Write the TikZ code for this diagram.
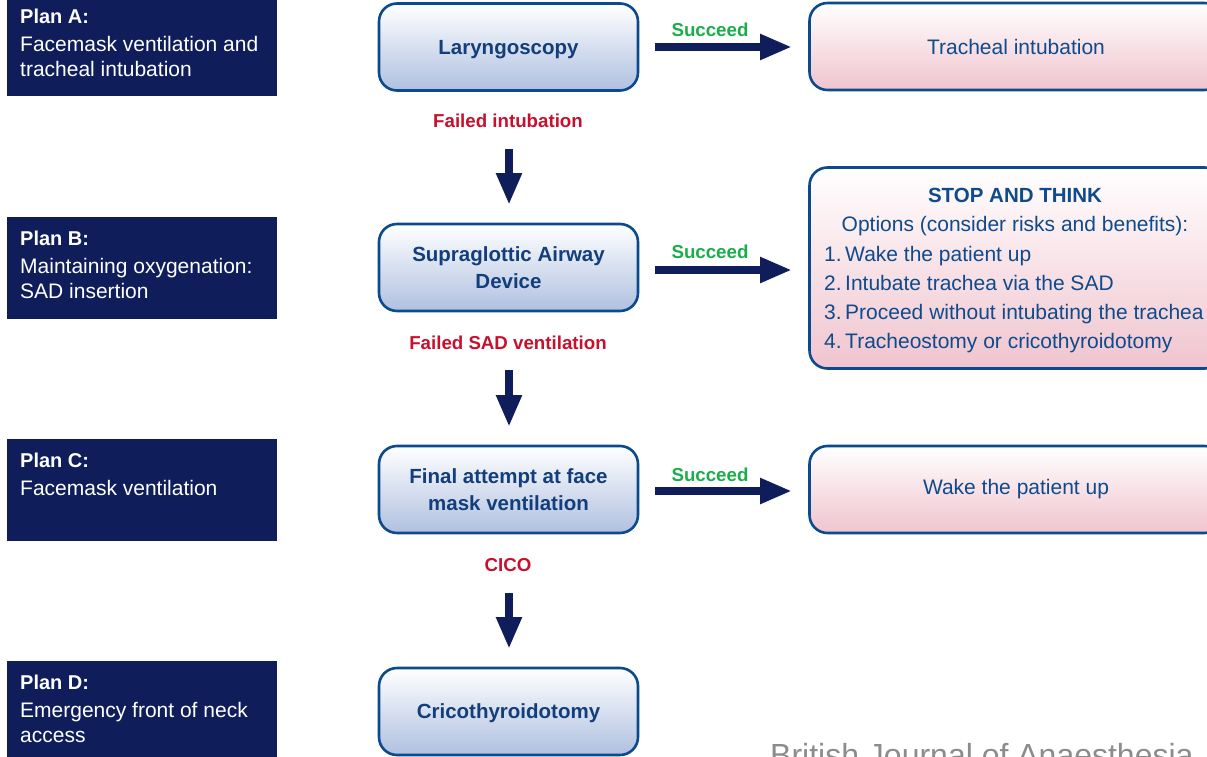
\documentclass[tikz,border=0pt]{standalone}
\usepackage{fontspec}
\setmainfont{Liberation Sans}
\usetikzlibrary{arrows.meta}
\definecolor{navy}{HTML}{0F1E5A}
\definecolor{boxline}{HTML}{0B4A8C}
\definecolor{ctext}{HTML}{123E7C}
\definecolor{rtext}{HTML}{0E4A8C}
\definecolor{sgreen}{HTML}{1AAE4A}
\definecolor{fred}{HTML}{C8102E}
\definecolor{blueb}{HTML}{AFC0E0}
\definecolor{pinkb}{HTML}{F0C4CE}
\definecolor{jgray}{HTML}{8C8C8C}
\begin{document}
\begin{tikzpicture}[x=1pt,y=-1pt,
  planbox/.style={fill=navy, draw=none, minimum width=270pt, minimum height=102pt, anchor=north west, inner sep=0pt},
  plantitle/.style={anchor=base west, inner sep=0pt, text=white, font=\fontsize{20}{24}\selectfont\bfseries},
  plantext/.style={anchor=base west, inner sep=0pt, text=white, font=\fontsize{21}{25}\selectfont},
  stepbox/.style={draw=boxline, line width=2.6pt, rounded corners=18pt, top color=white, bottom color=blueb, minimum width=259pt, minimum height=87pt, text=ctext, font=\fontsize{20.5}{27}\selectfont\bfseries, align=center, inner sep=0pt},
  resbox/.style={draw=boxline, line width=2.6pt, rounded corners=18pt, top color=white, bottom color=pinkb, minimum width=413pt, minimum height=87pt, text=rtext, font=\fontsize{21}{25}\selectfont, inner sep=0pt},
  rtxt/.style={text=rtext, font=\fontsize{21}{25}\selectfont, inner sep=0pt},
  harrow/.style={draw=navy, line width=8pt, -{Triangle[length=32pt,width=24pt]}},
  succ/.style={text=sgreen, font=\fontsize{18.7}{22}\selectfont\bfseries, inner sep=0pt},
  fail/.style={text=fred, font=\fontsize{18.7}{22}\selectfont\bfseries, inner sep=0pt}
]
\clip (0,0) rectangle (1207,757);
\fill[white] (0,0) rectangle (1207,757);

% Plan boxes
\node[planbox] (pa) at (7,-6) {};
\node[plantitle] (pat) at (20,23.5) {Plan A:};
\node[plantext] (pa1) at (20,51.5) {Facemask ventilation and};
\node[plantext] (pa2) at (20,76.5) {tracheal intubation};

\node[planbox] (pb) at (7,217) {};
\node[plantitle] (pbt) at (20,245.5) {Plan B:};
\node[plantext] (pb1) at (20,273.5) {Maintaining oxygenation:};
\node[plantext] (pb2) at (20,298.5) {SAD insertion};

\node[planbox] (pc) at (7,439) {};
\node[plantitle] (pct) at (20,467.5) {Plan C:};
\node[plantext] (pc1) at (20,495.5) {Facemask ventilation};

\node[planbox] (pd) at (7,661) {};
\node[plantitle] (pdt) at (20,689.5) {Plan D:};
\node[plantext] (pd1) at (20,717.5) {Emergency front of neck};
\node[plantext] (pd2) at (20,742.5) {access};

% Centre column
\node[stepbox, text depth=0pt] (lar) at (508.5,47) {Laryngoscopy};
\node[stepbox] (sad) at (508.5,267.5) {Supraglottic Airway\\Device};
\node[stepbox] (fin) at (508.5,489.5) {Final attempt at face\\mask ventilation};
\node[stepbox, text depth=0pt] (cri) at (508.5,711.5) {Cricothyroidotomy};

% Failure labels
\node[fail] (f1) at (508,121) {Failed intubation};
\node[fail] (f2) at (508,343) {Failed SAD ventilation};
\node[fail] (f3) at (508,565) {CICO};

% Vertical arrows
\coordinate (v1s) at (509,149); \coordinate (v1e) at (509,205);
\coordinate (v2s) at (509,370); \coordinate (v2e) at (509,427);
\coordinate (v3s) at (509,593); \coordinate (v3e) at (509,649);
\draw[harrow] (v1s) -- (v1e);
\draw[harrow] (v2s) -- (v2e);
\draw[harrow] (v3s) -- (v3e);

% Right column
\node[resbox] (tra) at (1016,46.5) {Tracheal intubation};
\node[resbox, minimum height=201pt] (stp) at (1016,268) {};
\node[resbox] (wak) at (1016,489.5) {Wake the patient up};

\node[rtxt, anchor=base, font=\fontsize{20.5}{25}\selectfont\bfseries] (st) at (1015,202) {STOP AND THINK};
\node[rtxt, anchor=base] (op) at (1015,231) {Options (consider risks and benefits):};
\node[rtxt, anchor=base west] (o1) at (824,261) {1.\hspace{3.5pt}Wake the patient up};
\node[rtxt, anchor=base west] (o2) at (824,290) {2.\hspace{3.5pt}Intubate trachea via the SAD};
\node[rtxt, anchor=base west] (o3) at (824,319) {3.\hspace{3.5pt}Proceed without intubating the trachea};
\node[rtxt, anchor=base west] (o4) at (824,348) {4.\hspace{3.5pt}Tracheostomy or cricothyroidotomy};

% Horizontal arrows
\coordinate (h1s) at (655,47); \coordinate (h1e) at (792,47);
\coordinate (h2s) at (655,270); \coordinate (h2e) at (792,270);
\coordinate (h3s) at (655,491); \coordinate (h3e) at (792,491);
\draw[harrow] (h1s) -- (h1e);
\draw[harrow] (h2s) -- (h2e);
\draw[harrow] (h3s) -- (h3e);
\node[succ] (s1) at (710,30) {Succeed};
\node[succ] (s2) at (710,252) {Succeed};
\node[succ] (s3) at (710,475) {Succeed};

% Source
\node[anchor=base west, inner sep=0pt, text=jgray, font=\fontsize{32}{38}\selectfont] (src) at (770,766) {British Journal of Anaesthesia};
\end{tikzpicture}
\end{document}
